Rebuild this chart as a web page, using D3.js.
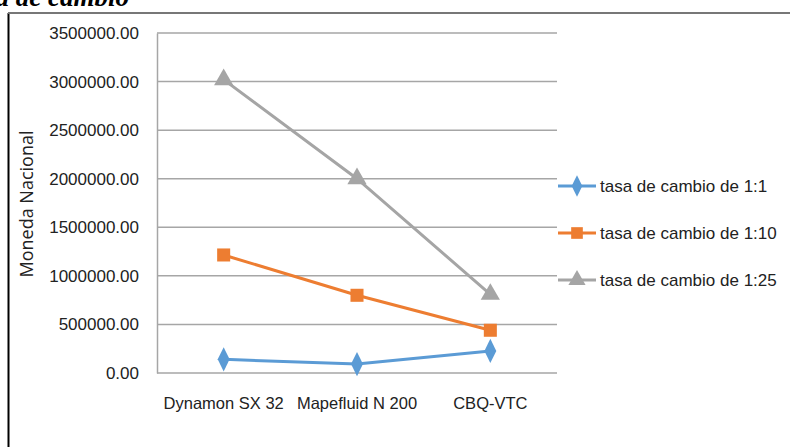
<!DOCTYPE html>
<html>
<head>
<meta charset="utf-8">
<script src="https://cdn.jsdelivr.net/npm/d3@7"></script>
<style>
  body { margin: 0; background: #fff; }
  svg { display: block; }
</style>
</head>
<body>
<div class="chart"></div>
<script>
// data
var categories = ["Dynamon SX 32", "Mapefluid N 200", "CBQ-VTC"];
var seriesNames = ["tasa de cambio de 1:1", "tasa de cambio de 1:10", "tasa de cambio de 1:25"];
var rate1 = [141000, 92000, 227000];
var rate10 = [1215000, 800000, 440000];
var rate25 = [3020000, 2000000, 810000];
var yTicks = [0, 500000, 1000000, 1500000, 2000000, 2500000, 3000000, 3500000];

var colors = ["#5b9bd5", "#ed7d31", "#a5a5a5"];
var values = [rate1, rate10, rate25];
var font = "'Liberation Sans', Arial, sans-serif";

var W = 790, H = 447;
var margin = {top: 33, right: 233, bottom: 74, left: 157},
    width = W - margin.left - margin.right,
    height = H - margin.top - margin.bottom;

var svg = d3.select(".chart").append("svg")
    .attr("width", W)
    .attr("height", H);

// frame and the cut-off title above it
svg.append("line").attr("x1", 8.5).attr("x2", 8.5).attr("y1", 13).attr("y2", H)
    .attr("stroke", "#000").attr("stroke-width", 2);
svg.append("line").attr("x1", 8).attr("x2", W).attr("y1", 13).attr("y2", 13)
    .attr("stroke", "#777").attr("stroke-width", 2);
svg.append("text")
    .attr("x", 129).attr("y", 6)
    .attr("text-anchor", "end")
    .style("font-family", "'Liberation Serif', serif")
    .style("font-style", "italic")
    .style("font-weight", "bold")
    .style("font-size", "27px")
    .text("tasa de cambio");

var g = svg.append("g")
    .attr("transform", "translate(" + margin.left + "," + margin.top + ")");

var x = d3.scaleBand().domain(categories).range([0, width]);
var y = d3.scaleLinear().domain([0, 3500000]).range([height, 0]);

// gridlines
g.selectAll(".grid").data(yTicks).enter().append("line")
    .attr("x1", 0).attr("x2", width)
    .attr("y1", function(d) { return y(d); })
    .attr("y2", function(d) { return y(d); })
    .attr("stroke", "#a6a6a6").attr("stroke-width", 1.5);

// y axis
var yAxis = g.append("g")
    .call(d3.axisLeft(y).tickValues(yTicks).tickSize(0).tickPadding(18)
      .tickFormat(function(d) { return d3.format(".2f")(d); }));
yAxis.select(".domain").attr("stroke", "#a6a6a6").attr("stroke-width", 1.5);
yAxis.selectAll("text")
    .style("font-family", font)
    .style("font-size", "17px")
    .attr("fill", "#222");

// x axis
var xAxis = g.append("g")
    .attr("transform", "translate(0," + height + ")")
    .call(d3.axisBottom(x).tickSize(0).tickPadding(24));
xAxis.select(".domain").remove();
xAxis.selectAll("text")
    .style("font-family", font)
    .style("font-size", "16.5px")
    .attr("fill", "#222");

// y title
svg.append("text")
    .attr("transform", "translate(33,204) rotate(-90)")
    .attr("text-anchor", "middle")
    .style("font-family", "'Open Sans', sans-serif")
    .style("font-size", "18px")
    .attr("fill", "#222")
    .text("Moneda Nacional");

var cx = function(i) { return x(categories[i]) + x.bandwidth() / 2; };
var line = d3.line()
    .x(function(d, i) { return cx(i); })
    .y(function(d) { return y(d); });

var shapes = [d3.symbolDiamond, d3.symbolSquare, d3.symbolTriangle];
var sizes = [170, 170, 160];

values.forEach(function(vals, s) {
  g.append("path")
    .datum(vals)
    .attr("d", line)
    .attr("fill", "none")
    .attr("stroke", colors[s])
    .attr("stroke-width", 3);
  g.selectAll(".m" + s).data(vals).enter().append("path")
    .attr("class", "m" + s)
    .attr("d", d3.symbol().type(shapes[s]).size(sizes[s]))
    .attr("transform", function(d, i) {
      var sy = s === 0 ? "scale(0.85,1)" : "";
      return "translate(" + cx(i) + "," + y(d) + ")" + sy;
    })
    .attr("fill", colors[s]);
});

// legend
var legendY = [186, 233, 280];
var leg = svg.selectAll(".leg").data(seriesNames).enter().append("g")
    .attr("transform", function(d, i) { return "translate(558," + legendY[i] + ")"; });
leg.append("line")
    .attr("x1", 0).attr("x2", 38)
    .attr("stroke", function(d, i) { return colors[i]; })
    .attr("stroke-width", 3);
leg.append("path")
    .attr("d", function(d, i) { return d3.symbol().type(shapes[i]).size(sizes[i] * 0.8)(); })
    .attr("transform", function(d, i) { return "translate(19,0)" + (i === 0 ? "scale(0.85,1)" : ""); })
    .attr("fill", function(d, i) { return colors[i]; });
leg.append("text")
    .attr("x", 42).attr("y", 0).attr("dy", "0.35em")
    .style("font-family", font)
    .style("font-size", "17px")
    .attr("fill", "#222")
    .text(function(d) { return d; });
</script>
</body>
</html>
